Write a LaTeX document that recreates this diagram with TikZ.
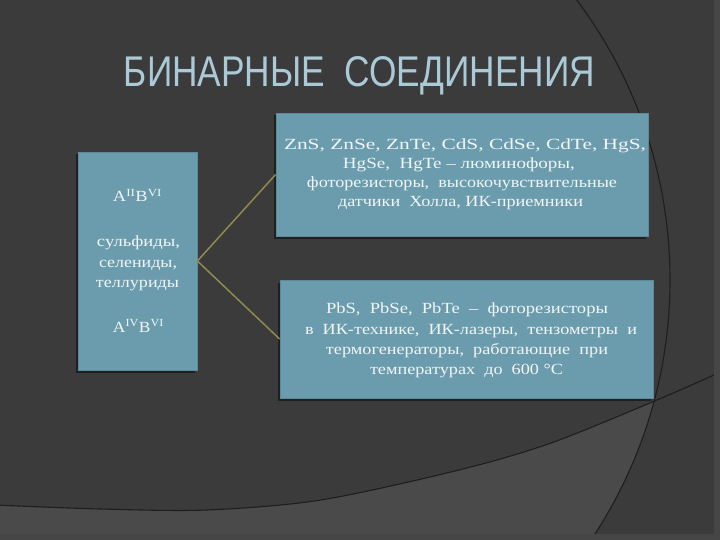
\documentclass[tikz,border=0pt]{standalone}
\usepackage{fontspec}
\setmainfont{Liberation Serif}
\newfontfamily\titlefont{Liberation Sans}
\usepackage{graphicx}
\usetikzlibrary{shadows}
\definecolor{bgc}{HTML}{3B3B3B}
\definecolor{bglight}{HTML}{4A4A4A}
\definecolor{edgec}{HTML}{464646}
\definecolor{arcc}{HTML}{1E1E1E}
\definecolor{boxc}{HTML}{6B9CAD}
\definecolor{boxedge}{HTML}{5E8999}
\definecolor{linkc}{HTML}{8F8A50}
\definecolor{titlec}{HTML}{ABCAD7}
\definecolor{txtc}{HTML}{F1F5F6}
\newcommand{\fitline}[2]{\resizebox{#1pt}{\height}{#2}}
\begin{document}
\begin{tikzpicture}[x=1pt,y=-1pt,
  bluebox/.style={draw=boxedge, line width=0.8pt, fill=boxc, inner sep=0pt,
    drop shadow={shadow xshift=-2.5pt, shadow yshift=-2.5pt, fill=black, opacity=0.45}},
  boxtext/.style={anchor=base, inner sep=0pt, text=txtc, font=\fontsize{15.5}{18}\selectfont},
  link/.style={draw=linkc, line width=1.5pt},
  arcline/.style={draw=arcc, line width=1.1pt}]
\useasboundingbox (0,0) rectangle (720,540);
\clip (0,0) rectangle (720,540);
% background
\fill[bgc] (0,0) rectangle (720,540);
\begin{scope}
  \clip (203,280) circle[radius=467pt];
  \fill[bglight] plot[smooth] coordinates {(-5,505) (100,509) (207,510) (321,500) (459,470) (551,443) (657,400) (725,370)} -- (725,545) -- (-5,545) -- cycle;
\end{scope}
\draw[arcline] (203,280) circle[radius=467pt];
\draw[arcline] plot[smooth] coordinates {(-5,505) (100,509) (207,510) (321,500) (459,470) (551,443) (657,400) (725,370)};
\fill[edgec] (714,0) rectangle (720,540);
\fill[edgec] (0,534) rectangle (720,540);
% title
\node[anchor=base, inner sep=0pt, text=titlec] (title) at (359.5,87)
  {\resizebox{471pt}{30pt}{\titlefont БИНАРНЫЕ\ \ СОЕДИНЕНИЯ}};
% boxes
\node[bluebox, minimum width=119pt, minimum height=218pt] (left) at (137.5,261) {};
\node[bluebox, minimum width=372pt, minimum height=123pt] (top) at (462,174.5) {};
\node[bluebox, minimum width=373pt, minimum height=118pt] (bottom) at (466.5,339) {};
% connectors
\draw[link] (left.east) -- (top.west);
\draw[link] (left.east) -- (bottom.west);
% left box text
\node[boxtext] (l1) at (137.5,202) {\fitline{49}{A\textsuperscript{II}B\textsuperscript{VI}}};
\node[boxtext] (l2) at (138.5,247) {\fitline{83}{сульфиды,}};
\node[boxtext] (l3) at (138,267) {\fitline{78}{селениды,}};
\node[boxtext] (l4) at (137.5,287) {\fitline{83}{теллуриды}};
\node[boxtext] (l5) at (138.5,332) {\fitline{51}{A\textsuperscript{IV}B\textsuperscript{VI}}};
% top box text
\node[boxtext] (t1) at (465,150) {\fitline{362}{ZnS, ZnSe, ZnTe, CdS, CdSe, CdTe, HgS,}};
\node[boxtext] (t2) at (459,169) {\fitline{232}{HgSe,\ \ HgTe – люминофоры,}};
\node[boxtext] (t3) at (462,188) {\fitline{310}{фоторезисторы,\ \ высокочувствительные}};
\node[boxtext] (t4) at (460.5,207) {\fitline{245}{датчики\ \ Холла, ИК-приемники}};
% bottom box text
\node[boxtext] (b1) at (467,313) {\fitline{282}{PbS,\ \ PbSe,\ \ PbTe\ \ –\ \ фоторезисторы}};
\node[boxtext] (b2) at (471,334) {\fitline{332}{в\ \ ИК-технике,\ \ ИК-лазеры,\ \ тензометры\ \ и}};
\node[boxtext] (b3) at (467,354) {\fitline{282}{термогенераторы,\ \ работающие\ \ при}};
\node[boxtext] (b4) at (466.5,374) {\fitline{193}{температурах\ \ до\ \ 600 °C}};
\end{tikzpicture}
\end{document}
